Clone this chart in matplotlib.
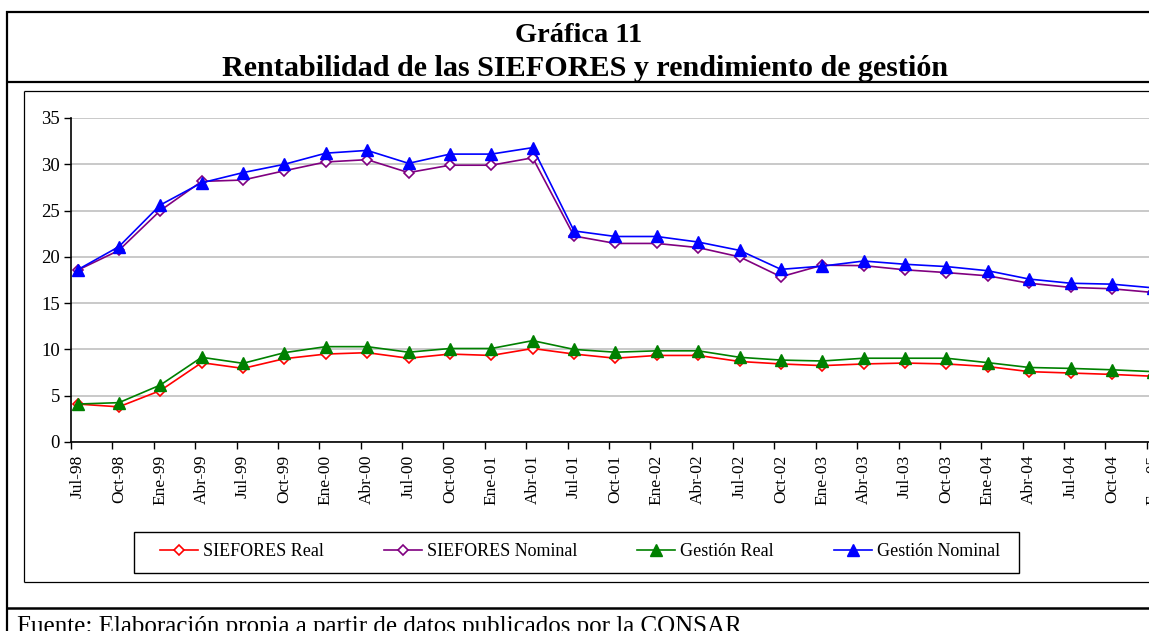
import matplotlib
matplotlib.use("Agg")
import matplotlib.pyplot as plt
import numpy as np
from matplotlib.lines import Line2D
from matplotlib.patches import Rectangle

# datos (porcentaje anual)
fechas = ["Jul-98", "Oct-98", "Ene-99", "Abr-99", "Jul-99", "Oct-99", "Ene-00", "Abr-00",
          "Jul-00", "Oct-00", "Ene-01", "Abr-01", "Jul-01", "Oct-01", "Ene-02", "Abr-02",
          "Jul-02", "Oct-02", "Ene-03", "Abr-03", "Jul-03", "Oct-03", "Ene-04", "Abr-04",
          "Jul-04", "Oct-04", "Ene-05"]

siefores_real = [4.1, 3.8, 5.55, 8.57, 7.95, 9.0, 9.5, 9.65,
                 9.05, 9.5, 9.35, 10.1, 9.5, 9.05, 9.35, 9.35,
                 8.7, 8.43, 8.25, 8.43, 8.53, 8.43, 8.15, 7.6,
                 7.45, 7.3, 7.1]
siefores_nominal = [18.55, 20.7, 25.0, 28.15, 28.3, 29.3, 30.25, 30.5,
                    29.1, 29.9, 29.9, 30.7, 22.25, 21.45, 21.45, 21.0,
                    20.0, 17.85, 19.1, 19.05, 18.6, 18.3, 17.95, 17.15,
                    16.7, 16.55, 16.15]
gestion_real = [4.1, 4.25, 6.15, 9.15, 8.5, 9.65, 10.3, 10.3,
                9.7, 10.1, 10.1, 10.95, 10.0, 9.7, 9.85, 9.85,
                9.15, 8.85, 8.75, 9.05, 9.05, 9.05, 8.57, 8.05,
                7.95, 7.8, 7.6]
gestion_nominal = [18.6, 21.1, 25.6, 28.0, 29.1, 30.0, 31.2, 31.5,
                   30.1, 31.1, 31.1, 31.8, 22.8, 22.2, 22.2, 21.6,
                   20.7, 18.65, 19.0, 19.55, 19.2, 18.95, 18.5, 17.6,
                   17.15, 17.05, 16.65]

W, H = 1149, 631
def fx(x):
    return x / W
def fy(y):
    return 1 - y / H

plt.rcParams['font.family'] = ['Liberation Serif', 'DejaVu Serif']

fig = plt.figure(figsize=(W / 100, H / 100), dpi=100)
fig.patch.set_facecolor("white")

# eje: izquierda en 71px, 0 en 442px, 35 en 118px, 41.38 px por trimestre
paso = 41.38
despl = 6.5 / paso
x = np.arange(len(fechas))
x0, x1 = -despl, 27.6
ax = fig.add_axes([fx(71), fy(442), (x1 - x0) * paso / W, 324 / H])
ax.set_xlim(x0, x1)
ax.set_ylim(0, 35)

ax.plot(x, siefores_real, color="#FF0000", lw=1.2, marker="D", ms=5.5,
        mfc="white", mec="#FF0000", mew=1.2, label="SIEFORES Real")
ax.plot(x, siefores_nominal, color="#800080", lw=1.2, marker="D", ms=5.5,
        mfc="white", mec="#800080", mew=1.2, label="SIEFORES Nominal")
ax.plot(x, gestion_real, color="#008000", lw=1.2, marker="^", ms=8,
        mfc="#008000", mec="#008000", label="Gestión Real")
ax.plot(x, gestion_nominal, color="#0000FF", lw=1.2, marker="^", ms=8,
        mfc="#0000FF", mec="#0000FF", label="Gestión Nominal")

ax.set_yticks(np.arange(0, 36, 5))
ax.yaxis.grid(True, color="#C0C0C0", lw=1.2)
ax.set_axisbelow(True)

# marcas entre categorias, etiquetas centradas en cada punto
ax.set_xticks(x - despl)
ax.set_xticklabels([])
ax.set_xticks(x, minor=True)
ax.set_xticklabels(fechas, minor=True, rotation=90, fontsize=12.5)
ax.tick_params(axis="x", which="major", length=5, width=1, direction="out", color="black")
ax.tick_params(axis="x", which="minor", length=0, pad=9)
ax.tick_params(axis="y", length=5, width=1, labelsize=13.5, pad=3)

for s in ["top", "right"]:
    ax.spines[s].set_visible(False)
for s in ["left", "bottom"]:
    ax.spines[s].set_color("black")
    ax.spines[s].set_linewidth(1.2)

# leyenda con marco propio
fig.add_artist(Rectangle((fx(134), fy(573)), 885 / W, 41 / H, transform=fig.transFigure,
                         fill=False, edgecolor="black", lw=1))
fig.legend(loc="center", bbox_to_anchor=(fx(580), fy(552)), ncol=4, frameon=False,
           fontsize=13, handlelength=2.1, handletextpad=0.3, columnspacing=3.3,
           numpoints=1)

# marcos del documento
def linea(xa, ya, xb, yb, lw):
    fig.add_artist(Line2D([fx(xa), fx(xb)], [fy(ya), fy(yb)], transform=fig.transFigure,
                          color="black", lw=lw, solid_capstyle="butt"))

linea(6, 12, 1160, 12, 1.6)
linea(7, 11, 7, 640, 1.6)
linea(6, 81.5, 1160, 81.5, 1.6)
linea(6, 608, 1160, 608, 1.8)
linea(23.5, 90.5, 1160, 90.5, 0.9)
linea(23.5, 90.5, 23.5, 582, 0.9)
linea(23.5, 582, 1160, 582, 0.9)

fig.text(fx(579), fy(36), "Gráfica 11", ha="center", va="center",
         fontsize=20.5, fontweight="bold")
fig.text(fx(585), fy(68), "Rentabilidad de las SIEFORES y rendimiento de gestión",
         ha="center", va="center", fontsize=21.7, fontweight="bold")
fig.text(fx(17), fy(633), "Fuente: Elaboración propia a partir de datos publicados por la CONSAR",
         ha="left", va="baseline", fontsize=18)

fig.savefig("out.png", dpi=100)
